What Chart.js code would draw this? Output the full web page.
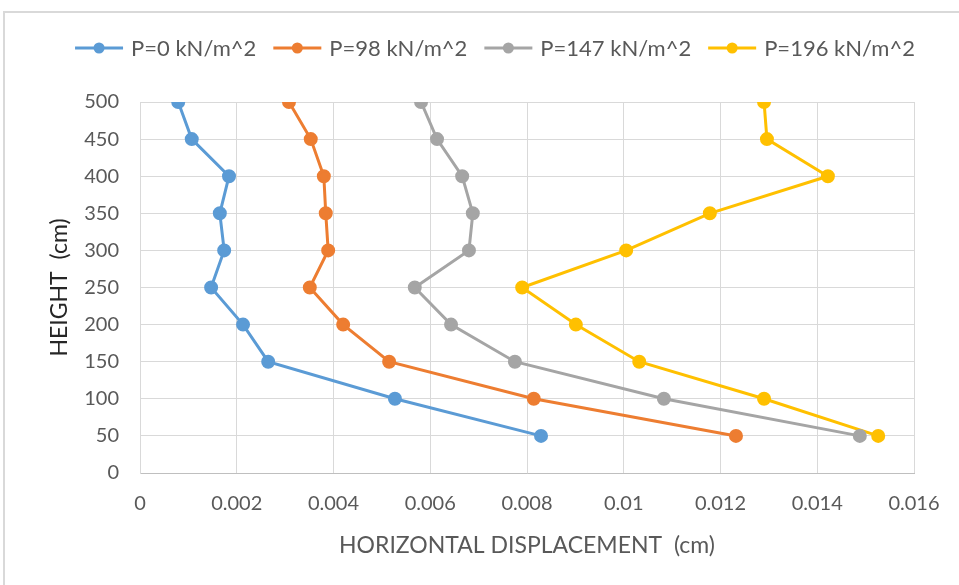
<!DOCTYPE html>
<html lang="en">
<head>
  <meta charset="UTF-8">
  <title>Horizontal displacement</title>
  <script src="https://cdn.jsdelivr.net/npm/chart.js"></script>
  <style>
    body {
      margin: 0;
      background-color: #fff;
    }
    .frame {
      position: absolute;
      left: 3px;
      top: 11px;
      width: 1000px;
      height: 700px;
      border-top: 2px solid #d9d9d9;
      border-left: 2px solid #d9d9d9;
    }
    .chart-container {
      position: absolute;
      left: 0;
      top: 0;
      width: 959px;
      height: 585px;
    }
  </style>
</head>
<body>
  <div class="frame"></div>
  <div class="chart-container">
    <canvas id="dispChart"></canvas>
  </div>

  <script>
    const heights = [500, 450, 400, 350, 300, 250, 200, 150, 100, 50];
    const seriesNames = ['P=0 kN/m^2', 'P=98 kN/m^2', 'P=147 kN/m^2', 'P=196 kN/m^2'];
    const disp0 = [0.00079, 0.00107, 0.00184, 0.00165, 0.00174, 0.00147, 0.00213, 0.00265, 0.00527, 0.00829];
    const disp98 = [0.00308, 0.00353, 0.00380, 0.00384, 0.00389, 0.00351, 0.00420, 0.00515, 0.00814, 0.01232];
    const disp147 = [0.00581, 0.00614, 0.00666, 0.00688, 0.00680, 0.00568, 0.00643, 0.00775, 0.01083, 0.01488];
    const disp196 = [0.01290, 0.01296, 0.01422, 0.01178, 0.01005, 0.00790, 0.00901, 0.01032, 0.01290, 0.01526];
    const xTicks = [0, 0.002, 0.004, 0.006, 0.008, 0.01, 0.012, 0.014, 0.016];
    const colors = ['#5B9BD5', '#ED7D31', '#A5A5A5', '#FFC000'];

    const fontFamily = 'Lato, "Open Sans", sans-serif';

    const allSeries = [disp0, disp98, disp147, disp196];
    const datasets = allSeries.map((vals, i) => ({
      label: seriesNames[i],
      data: vals.map((v, k) => ({ x: v, y: heights[k] })),
      borderColor: colors[i],
      backgroundColor: colors[i],
      borderWidth: 3,
      pointRadius: 5.5,
      pointHoverRadius: 5.5,
      showLine: true
    }));

    // Excel-style legend: line with a marker, then the label
    const lineLegend = {
      id: 'lineLegend',
      afterDraw(chart) {
        const g = chart.ctx;
        const fontSize = 22;
        const iconW = 48, gapText = 8, gapItem = 17;
        g.save();
        g.font = fontSize + 'px ' + fontFamily;
        const items = chart.data.datasets.map(ds => ({ ds, w: g.measureText(ds.label).width }));
        let total = 0;
        items.forEach((it, i) => { total += iconW + gapText + it.w + (i < items.length - 1 ? gapItem : 0); });
        let x = 495 - total / 2;
        const y = 48;
        items.forEach(it => {
          g.strokeStyle = it.ds.borderColor;
          g.lineWidth = 3;
          g.beginPath();
          g.moveTo(x, y);
          g.lineTo(x + iconW, y);
          g.stroke();
          g.fillStyle = it.ds.backgroundColor;
          g.beginPath();
          g.arc(x + iconW / 2, y, 5.5, 0, Math.PI * 2);
          g.fill();
          g.fillStyle = '#595959';
          g.textBaseline = 'middle';
          g.textAlign = 'left';
          g.fillText(it.ds.label, x + iconW + gapText, y + 1);
          x += iconW + gapText + it.w + gapItem;
        });
        g.restore();
      }
    };

    const ctx = document.getElementById('dispChart').getContext('2d');
    new Chart(ctx, {
      type: 'scatter',
      data: { datasets: datasets },
      plugins: [lineLegend],
      options: {
        responsive: true,
        maintainAspectRatio: false,
        animation: false,
        layout: { padding: { top: 102, left: 0, right: 45, bottom: 0 } },
        plugins: {
          tooltip: { enabled: false },
          legend: { display: false }
        },
        scales: {
          x: {
            type: 'linear',
            min: 0,
            max: 0.016,
            afterBuildTicks(scale) {
              scale.ticks = xTicks.map(v => ({ value: v }));
            },
            afterFit(scale) { scale.height = 112; },
            ticks: {
              color: '#595959',
              font: { family: fontFamily, size: 20 },
              padding: 19,
              maxRotation: 0,
              callback: v => String(parseFloat(v.toFixed(3)))
            },
            grid: { color: '#d9d9d9', lineWidth: 1, drawTicks: false },
            border: { color: '#bfbfbf', width: 1 },
            title: {
              display: true,
              text: 'HORIZONTAL DISPLACEMENT  (cm)',
              color: '#595959',
              font: { family: fontFamily, size: 23 },
              padding: { top: 0, bottom: 26 }
            }
          },
          y: {
            type: 'linear',
            min: 0,
            max: 500,
            afterFit(scale) { scale.width = 140; },
            ticks: {
              stepSize: 50,
              color: '#595959',
              font: { family: fontFamily, size: 20 },
              padding: 21
            },
            grid: { color: '#d9d9d9', lineWidth: 1, drawTicks: false },
            border: { color: '#d9d9d9', width: 1 },
            title: {
              display: true,
              text: 'HEIGHT  (cm)',
              color: '#262626',
              font: { family: fontFamily, size: 23 },
              padding: { top: 46, bottom: 0 }
            }
          }
        }
      }
    });
  </script>
</body>
</html>
